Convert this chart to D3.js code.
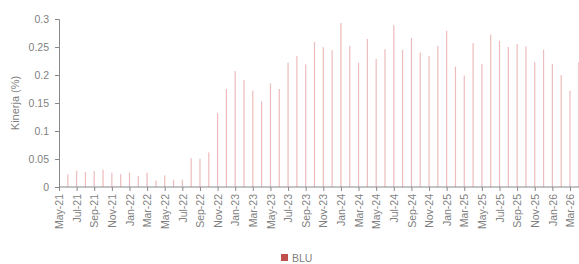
<!DOCTYPE html>
<html>
<head>
<meta charset="utf-8">
<script src="https://cdn.jsdelivr.net/npm/d3@7"></script>
<style>
  body { margin: 0; background: #fff; }
  svg text { font-family: "Liberation Sans", Arial, sans-serif; fill: #7f7f7f; }
</style>
</head>
<body>
<svg id="chart" width="579" height="264"></svg>
<script>
// monthly categories, May-21 .. Apr-26
var months = [
  "May-21","Jun-21","Jul-21","Aug-21","Sep-21","Oct-21","Nov-21","Dec-21",
  "Jan-22","Feb-22","Mar-22","Apr-22","May-22","Jun-22","Jul-22","Aug-22","Sep-22","Oct-22","Nov-22","Dec-22",
  "Jan-23","Feb-23","Mar-23","Apr-23","May-23","Jun-23","Jul-23","Aug-23","Sep-23","Oct-23","Nov-23","Dec-23",
  "Jan-24","Feb-24","Mar-24","Apr-24","May-24","Jun-24","Jul-24","Aug-24","Sep-24","Oct-24","Nov-24","Dec-24",
  "Jan-25","Feb-25","Mar-25","Apr-25","May-25","Jun-25","Jul-25","Aug-25","Sep-25","Oct-25","Nov-25","Dec-25",
  "Jan-26","Feb-26","Mar-26","Apr-26"
];

// BLU series (%), no value shown for May-21
var bluValues = [
  null, 0.0226, 0.029, 0.027, 0.0285, 0.031, 0.0255, 0.023,
  0.0255, 0.0196, 0.0255, 0.0113, 0.0208, 0.013, 0.013, 0.0517, 0.0505, 0.0618, 0.132, 0.175,
  0.207, 0.191, 0.172, 0.153, 0.185, 0.175, 0.222, 0.234, 0.219, 0.259, 0.2496, 0.2442,
  0.293, 0.252, 0.222, 0.2644, 0.2288, 0.246, 0.289, 0.245, 0.266, 0.240, 0.234, 0.252,
  0.279, 0.215, 0.199, 0.257, 0.220, 0.272, 0.261, 0.250, 0.2555, 0.251, 0.223, 0.245,
  0.220, 0.200, 0.172, 0.223
];

var yTicks = [0, 0.05, 0.1, 0.15, 0.2, 0.25, 0.3];
var seriesName = "BLU";

var margin = {top: 19, left: 59, bottom: 77};
var svg = d3.select("#chart");
var width = +svg.attr("width"), height = +svg.attr("height");
var plotBottom = height - margin.bottom;

var x = d3.scalePoint()
  .domain(months)
  .range([margin.left, 578.8]);

var y = d3.scaleLinear()
  .domain([0, 0.3])
  .range([plotBottom, margin.top]);

var data = months.map(function (m, i) { return {month: m, value: bluValues[i]}; })
  .filter(function (d) { return d.value != null; });

// bars (very thin, excel style)
svg.append("g")
  .selectAll("rect")
  .data(data)
  .enter().append("rect")
  .attr("x", function (d) { return x(d.month) - 0.6; })
  .attr("width", 1.2)
  .attr("y", function (d) { return y(d.value); })
  .attr("height", function (d) { return plotBottom - y(d.value); })
  .attr("fill", "#eebcbc");

// y axis
var yAxis = svg.append("g")
  .attr("transform", "translate(" + margin.left + ",0)")
  .call(d3.axisLeft(y).tickValues(yTicks).tickSize(4).tickPadding(6)
    .tickFormat(function (d) { return d === 0 ? "0" : String(+d.toFixed(2)); }));
yAxis.select(".domain").attr("stroke", "#888");
yAxis.selectAll(".tick line").attr("stroke", "#888");
yAxis.selectAll("text").style("font-size", "10.5px").attr("fill", "#7f7f7f");

// x axis
var xAxis = svg.append("g")
  .attr("transform", "translate(0," + plotBottom + ")")
  .call(d3.axisBottom(x)
    .tickValues(months.filter(function (m, i) { return i % 2 === 0; }))
    .tickSizeInner(4).tickSizeOuter(0).tickPadding(6));
xAxis.select(".domain").attr("stroke", "#888").attr("d", "M" + margin.left + ",0H579");
xAxis.selectAll(".tick line").attr("stroke", "#888");
xAxis.selectAll("text")
  .style("font-size", "10.5px")
  .attr("fill", "#7f7f7f")
  .attr("text-anchor", "end")
  .attr("transform", "rotate(-90)")
  .attr("x", -7)
  .attr("y", 0)
  .attr("dy", "0.35em");

// y title
svg.append("text")
  .attr("transform", "translate(15," + ((margin.top + plotBottom) / 2) + ") rotate(-90)")
  .attr("text-anchor", "middle")
  .attr("dy", "0.35em")
  .style("font-size", "11px")
  .text("Kinerja (%)");

// legend
var legend = svg.append("g").attr("transform", "translate(281,254)");
legend.append("rect").attr("width", 7).attr("height", 7).attr("fill", "#c0504d");
legend.append("text").attr("x", 11).attr("y", 7.5).style("font-size", "10.5px").text(seriesName);
</script>
</body>
</html>
